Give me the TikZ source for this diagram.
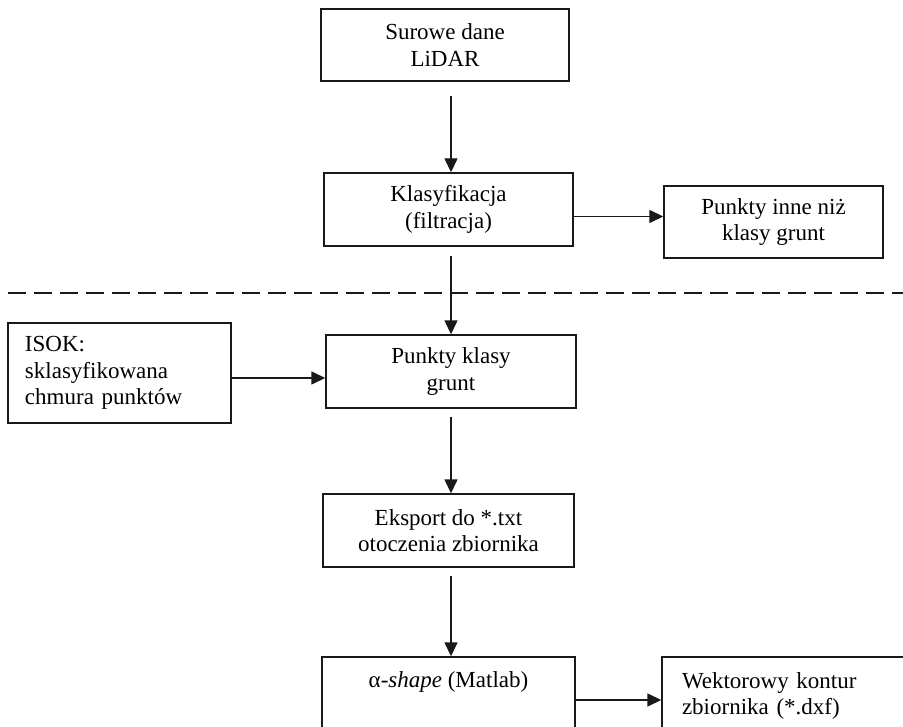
\documentclass[tikz,border=0pt]{standalone}
\usepackage{fontspec}
\setmainfont{Liberation Serif}
\usetikzlibrary{arrows.meta}
\begin{document}
\begin{tikzpicture}[x=1bp,y=-1bp,
  box/.style={draw=black!90, line width=1.4bp, inner sep=0pt, align=center,
    font=\fontsize{23bp}{26.7bp}\selectfont},
  txt/.style={inner sep=0pt, font=\fontsize{23bp}{26.7bp}\selectfont},
  conn/.style={draw=black!90, line width=1.4bp, -{Triangle[length=14bp,width=13bp]}},
  dashline/.style={draw=black!90, line width=1.8bp, dash pattern=on 18bp off 8bp}]
\useasboundingbox (0,0) rectangle (903,727);
\clip (0,0) rectangle (903,727);
\coordinate (ax) at (451,0);
\node[box, minimum width=248bp, minimum height=72bp] (raw) at (445,45) {Surowe dane\\LiDAR};
\node[box, minimum width=249bp, minimum height=73bp] (klas) at (448.5,209.5) {Klasyfikacja\\(filtracja)};
\node[box, minimum width=219bp, minimum height=72bp] (inne) at (773.5,222) {Punkty inne niż\\klasy grunt};
\node[box, minimum width=223bp, minimum height=100bp, text width=189bp, inner xsep=17bp, align=left] (isok) at (119.5,373) {ISOK:\\sklasyfikowana\\chmura punktów};
\node[box, minimum width=250bp, minimum height=73bp] (pk) at (451,371.5) {Punkty klasy\\grunt};
\node[box, minimum width=251bp, minimum height=73bp] (eks) at (448.5,530.5) {Eksport do *.txt\\otoczenia zbiornika};
\node[box, minimum width=253bp, minimum height=86bp] (alpha) at (448.5,700) {};
\node[txt, anchor=base] (alphatxt) at (448.5,687) {α-\textit{shape} (Matlab)};
\node[box, minimum width=298bp, minimum height=78bp, text width=258bp, inner xsep=20bp, align=left] (wek) at (811,696) {Wektorowy kontur\\zbiornika (*.dxf)};
\coordinate (dl1) at (8,293);
\coordinate (dl2) at (903,293);
\draw[dashline] (dl1) -- (dl2);
\draw[conn] ([yshift=-14bp]raw.south -| ax) -- (klas.north -| ax);
\draw[conn] ([yshift=-9bp]klas.south -| ax) -- (pk.north -| ax);
\draw[conn] ([yshift=-8bp]pk.south -| ax) -- (eks.north -| ax);
\draw[conn] ([yshift=-8bp]eks.south -| ax) -- (alpha.north -| ax);
\draw[conn] ([yshift=-7bp]klas.east) -- ([yshift=-7bp]klas.east -| inne.west);
\draw[conn] ([yshift=-5bp]isok.east) -- ([yshift=-5bp]isok.east -| pk.west);
\draw[conn] (alpha.east) -- (alpha.east -| wek.west);
\end{tikzpicture}
\end{document}
